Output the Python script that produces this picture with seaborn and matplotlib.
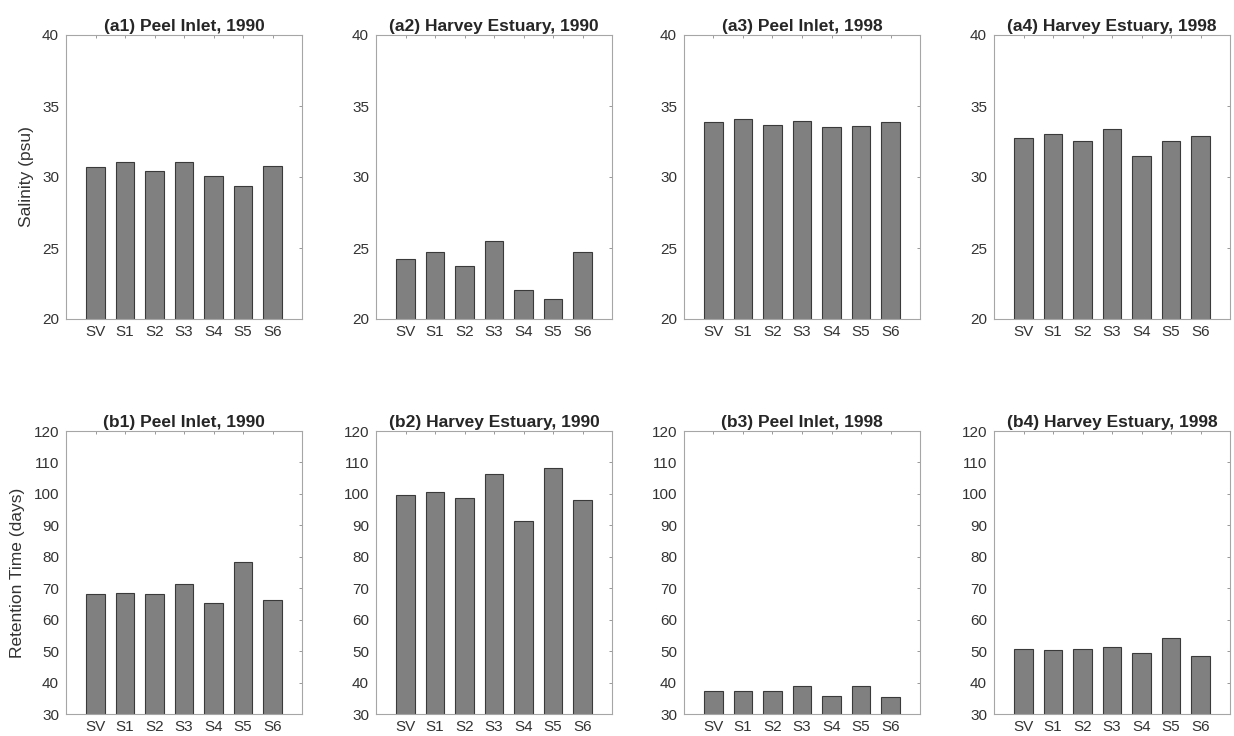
import matplotlib
matplotlib.use('Agg')
import matplotlib.pyplot as plt
import seaborn as sns

stations = ['SV', 'S1', 'S2', 'S3', 'S4', 'S5', 'S6']

# salinity (psu)
sal_peel_1990 = [30.7, 31.05, 30.4, 31.05, 30.1, 29.4, 30.8]
sal_harvey_1990 = [24.2, 24.7, 23.7, 25.5, 22.05, 21.4, 24.75]
sal_peel_1998 = [33.85, 34.05, 33.65, 33.95, 33.55, 33.6, 33.85]
sal_harvey_1998 = [32.75, 33.05, 32.5, 33.4, 31.5, 32.5, 32.9]

# retention time (days)
ret_peel_1990 = [68.3, 68.6, 68.2, 71.4, 65.3, 78.4, 66.3]
ret_harvey_1990 = [99.5, 100.6, 98.7, 106.4, 91.3, 108.3, 97.9]
ret_peel_1998 = [37.3, 37.3, 37.3, 39.0, 35.8, 38.8, 35.4]
ret_harvey_1998 = [50.7, 50.3, 50.8, 51.4, 49.3, 54.2, 48.3]

top_titles = ['(a1) Peel Inlet, 1990', '(a2) Harvey Estuary, 1990',
              '(a3) Peel Inlet, 1998', '(a4) Harvey Estuary, 1998']
bottom_titles = ['(b1) Peel Inlet, 1990', '(b2) Harvey Estuary, 1990',
                 '(b3) Peel Inlet, 1998', '(b4) Harvey Estuary, 1998']

sns.set_style('white')
plt.rcParams['font.family'] = ['Liberation Sans', 'DejaVu Sans']

W, H = 1234, 736
fig = plt.figure(figsize=(W / 100, H / 100), dpi=100)

lefts = [66, 376, 684, 994]
aw = 236


def panel(left, top, bottom, vals, title, ylim, yticks, ylabel=None):
    ax = fig.add_axes([left / W, 1 - bottom / H, aw / W, (bottom - top) / H])
    sns.barplot(x=stations, y=vals, color='#808080', saturation=1,
                edgecolor='#3a3a3a', linewidth=0.8, width=0.63, ax=ax)
    ax.set_xlim(-1, 7)
    ax.set_ylim(*ylim)
    ax.set_yticks(yticks)
    ax.tick_params(axis='both', direction='in', length=2.5, width=0.6,
                   color='#888888', labelcolor='#333333', labelsize=11,
                   top=True, right=True)
    ax.tick_params(axis='y', pad=5)
    ax.tick_params(axis='x', pad=4.5)
    for s in ax.spines.values():
        s.set_color('#a6a6a6')
        s.set_linewidth(0.8)
        s.set_visible(True)
    ax.set_title(title, fontsize=12.5, fontweight='bold', pad=3)
    if ylabel:
        ax.set_ylabel(ylabel, fontsize=12.5, color='#333333', labelpad=6)
    else:
        ax.set_ylabel('')
    ax.set_xlabel('')
    return ax


top_data = [sal_peel_1990, sal_harvey_1990, sal_peel_1998, sal_harvey_1998]
bottom_data = [ret_peel_1990, ret_harvey_1990, ret_peel_1998, ret_harvey_1998]

for i in range(4):
    panel(lefts[i], 35, 319, top_data[i], top_titles[i], (20, 40),
          [20, 25, 30, 35, 40], 'Salinity (psu)' if i == 0 else None)
    panel(lefts[i], 431, 714, bottom_data[i], bottom_titles[i], (30, 120),
          list(range(30, 121, 10)), 'Retention Time (days)' if i == 0 else None)

plt.savefig('out.png', dpi=100)
